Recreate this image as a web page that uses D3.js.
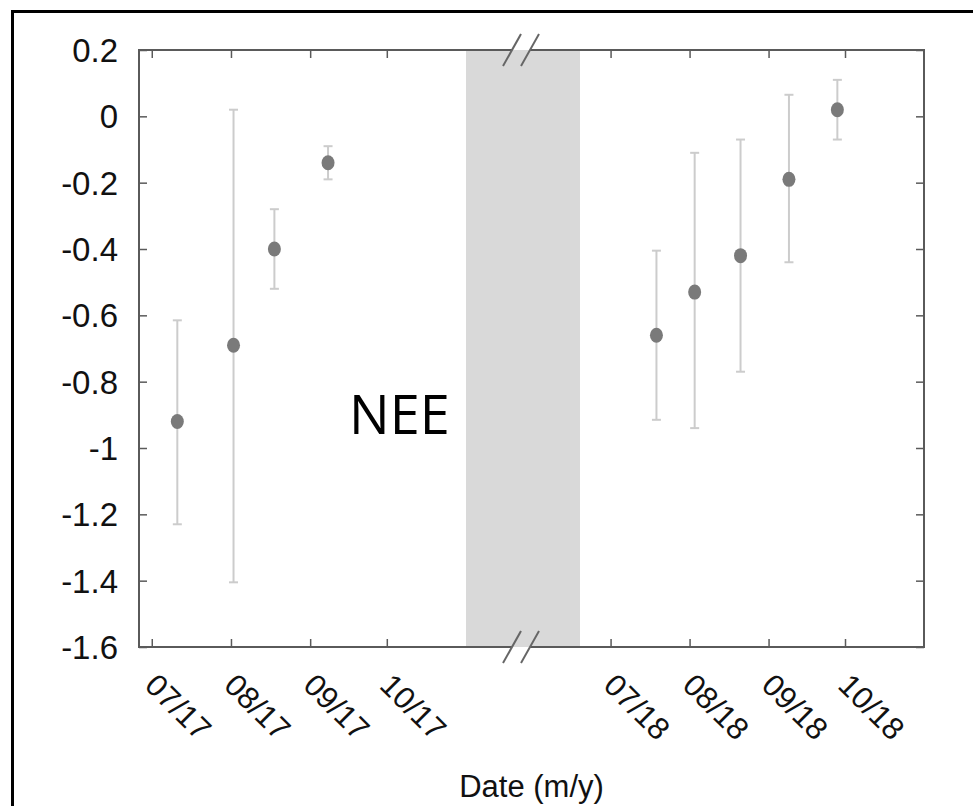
<!DOCTYPE html>
<html>
<head>
<meta charset="utf-8">
<script src="https://cdn.jsdelivr.net/npm/d3@7.9.0/dist/d3.min.js"></script>
<style>
  body { margin: 0; background: #fff; }
  svg { display: block; }
  .axis path, .axis line { stroke: #5a5a5a; }
  .axis path { stroke-width: 2; }
  .axis line { stroke-width: 1.5; }
  .axis text { font-family: "Liberation Sans", Arial, sans-serif; fill: #111; }
</style>
</head>
<body>
<svg id="chart" width="973" height="806"></svg>
<script>
// sampling dates and NEE with its error bounds
const dates = ["2017-07-11", "2017-08-02", "2017-08-18", "2017-09-08",
               "2018-07-19", "2018-08-03", "2018-08-21", "2018-09-09", "2018-09-28"];
const nee   = [-0.92, -0.69, -0.40, -0.14, -0.66, -0.53, -0.42, -0.19, 0.02];
const upper = [-0.615, 0.02, -0.28, -0.09, -0.405, -0.11, -0.07, 0.065, 0.11];
const lower = [-1.23, -1.405, -0.52, -0.19, -0.915, -0.94, -0.77, -0.44, -0.07];

// x domain: two seasons with a break between them
const xBreaks = ["2017-06-26", "2017-11-01", "2018-06-19", "2018-11-01"];
const monthTicks = ["2017-07-01", "2017-08-01", "2017-09-01", "2017-10-01",
                    "2018-07-01", "2018-08-01", "2018-09-01", "2018-10-01"];
const monthLabels = ["07/17", "08/17", "09/17", "10/17", "07/18", "08/18", "09/18", "10/18"];
const yTicks = [0.2, 0, -0.2, -0.4, -0.6, -0.8, -1, -1.2, -1.4, -1.6];

const parse = d3.utcParse("%Y-%m-%d");
const pLeft = 139, pRight = 924, pTop = 50, pBottom = 647;

const x = d3.scaleUtc()
  .domain(xBreaks.map(parse))
  .range([pLeft, 466, 580, pRight]);
const y = d3.scaleLinear().domain([-1.6, 0.2]).range([pBottom, pTop]);

const svg = d3.select("#chart");
svg.append("rect").attr("width", 973).attr("height", 806).attr("fill", "#fff");

// outer frame
svg.append("rect")
  .attr("x", 12.5).attr("y", 11.5).attr("width", 1000).attr("height", 1000)
  .attr("fill", "none").attr("stroke", "#000").attr("stroke-width", 3);

// break band
const bandL = x(parse(xBreaks[1])), bandR = x(parse(xBreaks[2]));
const bandColor = "#d9d9d9";
svg.append("rect")
  .attr("x", bandL).attr("y", pTop)
  .attr("width", bandR - bandL)
  .attr("height", pBottom - pTop)
  .attr("fill", bandColor);

const tickDates = monthTicks.map(parse);

svg.append("g").attr("class", "axis")
  .attr("transform", `translate(${pLeft},0)`)
  .call(d3.axisLeft(y).tickValues(yTicks).tickSize(-8).tickPadding(21)
    .tickSizeOuter(0).tickFormat(d => String(d)))
  .call(g => g.selectAll("text").attr("font-size", 33).attr("dy", "0.35em"))
  .call(g => g.select(".domain").remove());

svg.append("g").attr("class", "axis")
  .attr("transform", `translate(${pRight},0)`)
  .call(d3.axisRight(y).tickValues(yTicks).tickSize(-8).tickSizeOuter(0).tickFormat(""))
  .call(g => g.select(".domain").remove());

svg.append("g").attr("class", "axis")
  .attr("transform", `translate(0,${pTop})`)
  .call(d3.axisTop(x).tickValues(tickDates).tickSize(-8).tickSizeOuter(0).tickFormat(""))
  .call(g => g.select(".domain").remove());

const xAxis = svg.append("g").attr("class", "axis")
  .attr("transform", `translate(0,${pBottom})`)
  .call(d3.axisBottom(x).tickValues(tickDates).tickSize(-8).tickSizeOuter(0)
    .tickFormat((d, i) => monthLabels[i]))
  .call(g => g.select(".domain").remove());

xAxis.selectAll("text")
  .attr("font-size", 31)
  .attr("text-anchor", "start")
  .attr("dy", null)
  .attr("y", null)
  .attr("transform", "translate(-9,40) rotate(45)");

// plot frame
svg.append("rect")
  .attr("x", pLeft).attr("y", pTop).attr("width", pRight - pLeft).attr("height", pBottom - pTop)
  .attr("fill", "none").attr("stroke", "#5a5a5a").attr("stroke-width", 2);

// axis break marks: hide the frame line between the slashes, then draw them
const bc = (bandL + bandR) / 2 - 2;
const slope = 18 / 32;
[[pTop, "#fff", bandColor], [pBottom, bandColor, "#fff"]].forEach(([yy, above, below]) => {
  const gap = (dy) => [[bc - 9 - dy * slope, yy + dy], [bc + 9 - dy * slope, yy + dy]];
  const [a0, a1] = gap(-2), [m0, m1] = gap(0), [b0, b1] = gap(2);
  svg.append("polygon").attr("points", [a0, a1, m1, m0].join(" ")).attr("fill", above);
  svg.append("polygon").attr("points", [m0, m1, b1, b0].join(" ")).attr("fill", below);
  [-9, 9].forEach(off => {
    svg.append("line")
      .attr("x1", bc + off - 9).attr("y1", yy + 16)
      .attr("x2", bc + off + 9).attr("y2", yy - 16)
      .attr("stroke", "#666").attr("stroke-width", 2);
  });
});

// error bars
const pts = dates.map((d, i) => ({ date: parse(d), v: nee[i], hi: upper[i], lo: lower[i] }));
const eb = svg.append("g").attr("stroke", "#cccccc").attr("stroke-width", 2);
eb.selectAll(".bar").data(pts).join("line").attr("class", "bar")
  .attr("x1", d => x(d.date)).attr("x2", d => x(d.date))
  .attr("y1", d => y(d.hi)).attr("y2", d => y(d.lo));
eb.selectAll(".capHi").data(pts).join("line").attr("class", "capHi")
  .attr("x1", d => x(d.date) - 4.5).attr("x2", d => x(d.date) + 4.5)
  .attr("y1", d => y(d.hi)).attr("y2", d => y(d.hi));
eb.selectAll(".capLo").data(pts).join("line").attr("class", "capLo")
  .attr("x1", d => x(d.date) - 4.5).attr("x2", d => x(d.date) + 4.5)
  .attr("y1", d => y(d.lo)).attr("y2", d => y(d.lo));

svg.append("g").selectAll("ellipse").data(pts).join("ellipse")
  .attr("cx", d => x(d.date)).attr("cy", d => y(d.v))
  .attr("rx", 6.5).attr("ry", 7.5)
  .attr("fill", "#7a7a7a");

// labels
svg.append("text")
  .attr("x", (pLeft + pRight) / 2).attr("y", 797)
  .attr("text-anchor", "middle")
  .attr("font-family", "Liberation Sans, Arial, sans-serif")
  .attr("font-size", 31).attr("fill", "#111")
  .text("Date (m/y)");

svg.append("text")
  .attr("x", 349).attr("y", 434)
  .attr("font-family", "Open Sans, Noto Sans, sans-serif")
  .attr("font-size", 54).attr("fill", "#000")
  .text("NEE");
</script>
</body>
</html>
